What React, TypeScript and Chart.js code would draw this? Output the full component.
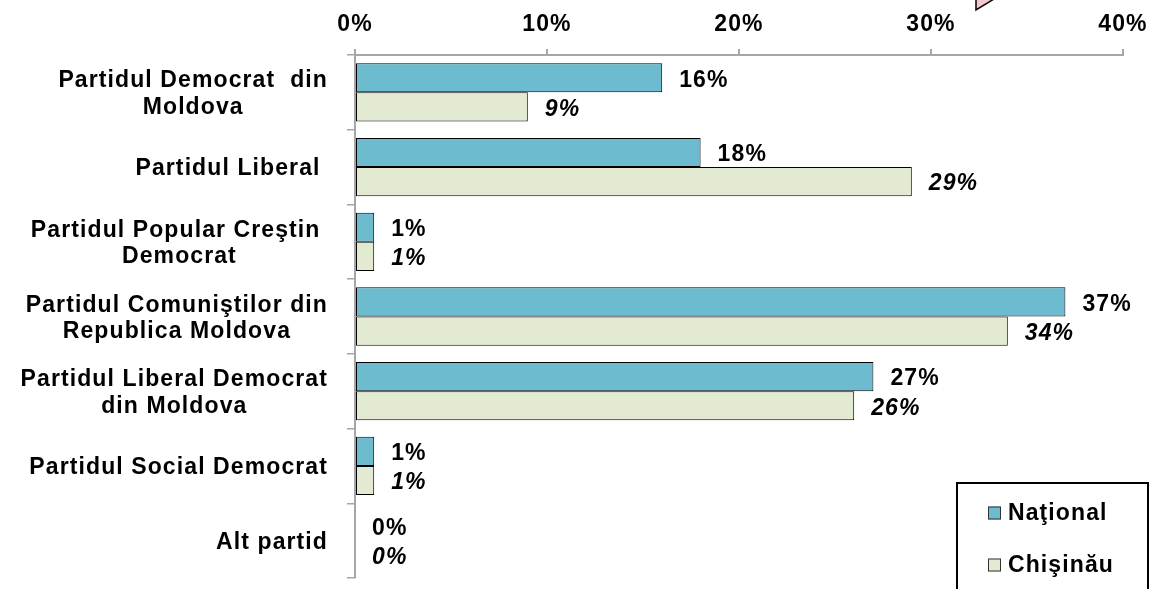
import React, { useEffect, useRef } from "react";
import { Chart, registerables } from "chart.js";

Chart.register(...registerables);

const categories: string[][] = [
  ["Partidul Democrat  din", "Moldova"],
  ["Partidul Liberal "],
  ["Partidul Popular Creştin ", "Democrat"],
  ["Partidul Comuniştilor din", "Republica Moldova"],
  ["Partidul Liberal Democrat", "din Moldova"],
  ["Partidul Social Democrat"],
  ["Alt partid"],
];
const seriesNames = ["Naţional", "Chişinău"];
const nationalValues = [16, 18, 1, 37, 27, 1, 0];
const chisinauValues = [9, 29, 1, 34, 26, 1, 0];
const xTickValues = [0, 10, 20, 30, 40];

const FONT = "'Liberation Sans', Arial, sans-serif";
const FS = 23;
const LS = "1.1px";
const BLUE = "#6CBBCF";
const GREEN = "#E2EAD1";
const GRAY = "#A6A6A6";

const spacingPlugin = {
  id: "spacing",
  beforeLayout(chart: any) {
    chart.ctx.letterSpacing = LS;
  },
  beforeDraw(chart: any) {
    chart.ctx.letterSpacing = LS;
  },
};

const decorPlugin = {
  id: "decor",
  afterDraw(chart: any) {
    const ctx = chart.ctx;
    const yScale = chart.scales.y;
    const area = chart.chartArea;
    ctx.save();
    ctx.letterSpacing = LS;
    ctx.font = `bold ${FS}px ${FONT}`;
    ctx.fillStyle = "#000";
    ctx.textBaseline = "middle";
    ctx.textAlign = "center";
    // category labels
    const rightEdge = yScale.right - 27;
    categories.forEach((lines, i) => {
      const yc = yScale.getPixelForValue(i) + 2;
      const widths = lines.map((l) => ctx.measureText(l).width);
      const bw = Math.max(...widths);
      const cx = rightEdge - bw / 2;
      lines.forEach((l, j) => {
        ctx.fillText(l, cx, yc + (j - (lines.length - 1) / 2) * 26.6);
      });
    });
    // value labels
    ctx.textAlign = "left";
    chart.data.datasets.forEach((ds: any, d: number) => {
      const meta = chart.getDatasetMeta(d);
      ctx.font = d === 1 ? `italic bold ${FS}px ${FONT}` : `bold ${FS}px ${FONT}`;
      meta.data.forEach((bar: any, i: number) => {
        ctx.fillText(ds.data[i] + "%", bar.x + 17, bar.y + 2.5);
      });
    });
    // legend box
    const lx = area.right - 166;
    const ly = area.bottom - 95;
    ctx.lineWidth = 2;
    ctx.strokeStyle = "#000";
    ctx.beginPath();
    ctx.moveTo(lx, chart.height + 2);
    ctx.lineTo(lx, ly);
    ctx.lineTo(area.right + 25, ly);
    ctx.lineTo(area.right + 25, chart.height + 2);
    ctx.stroke();
    chart.data.datasets.forEach((ds: any, d: number) => {
      const iy = ly + 30 + d * 52;
      ctx.fillStyle = ds.backgroundColor;
      ctx.fillRect(lx + 31, iy - 6.5, 13, 13);
      ctx.lineWidth = 1;
      ctx.strokeStyle = "#333";
      ctx.strokeRect(lx + 31.5, iy - 6, 12, 12);
      ctx.fillStyle = "#000";
      ctx.font = `bold ${FS}px ${FONT}`;
      ctx.textAlign = "left";
      ctx.fillText(ds.label, lx + 51, iy + 1);
    });
    // decorative callout fragment at top
    ctx.beginPath();
    ctx.moveTo(976, -1);
    ctx.lineTo(976, 10);
    ctx.lineTo(994, -1);
    ctx.closePath();
    ctx.fillStyle = "#F7C7C9";
    ctx.fill();
    ctx.beginPath();
    ctx.moveTo(976, -1);
    ctx.lineTo(976, 10);
    ctx.lineTo(994, -1);
    ctx.strokeStyle = "#000";
    ctx.lineWidth = 1.5;
    ctx.stroke();
    ctx.restore();
  },
};

export default function App() {
  const ref = useRef<HTMLCanvasElement>(null);
  useEffect(() => {
    if (!ref.current) return;
    const chart = new Chart(ref.current, {
      type: "bar",
      data: {
        labels: categories.map((c) => c.join(" ")),
        datasets: [
          {
            label: seriesNames[0],
            data: nationalValues,
            backgroundColor: BLUE,
            borderColor: "#000",
            borderWidth: (c: any) => (c.raw === 0 ? 0 : 1),
            borderSkipped: false,
            categoryPercentage: 0.78,
            barPercentage: 1,
          },
          {
            label: seriesNames[1],
            data: chisinauValues,
            backgroundColor: GREEN,
            borderColor: "#000",
            borderWidth: (c: any) => (c.raw === 0 ? 0 : 1),
            borderSkipped: false,
            categoryPercentage: 0.78,
            barPercentage: 1,
          },
        ],
      },
      options: {
        indexAxis: "y",
        animation: false,
        responsive: true,
        maintainAspectRatio: false,
        layout: { padding: { left: 0, top: 0, right: 28, bottom: 11 } },
        plugins: {
          legend: { display: false },
          tooltip: { enabled: false },
        },
        scales: {
          x: {
            position: "top",
            min: xTickValues[0],
            max: xTickValues[xTickValues.length - 1],
            afterBuildTicks: (s: any) => {
              s.ticks = xTickValues.map((v) => ({ value: v }));
            },
            afterFit: (s: any) => {
              s.height = 55;
              s.paddingLeft = 0;
              s.paddingRight = 0;
            },
            ticks: {
              callback: (v: any) => v + "%",
              color: "#000",
              font: { family: FONT, size: FS, weight: "bold" },
              padding: 11,
              maxRotation: 0,
            },
            grid: {
              drawOnChartArea: false,
              drawTicks: true,
              tickLength: 6,
              color: GRAY,
              lineWidth: 2,
            },
            border: { display: true, color: GRAY, width: 2 },
          },
          y: {
            afterFit: (s: any) => {
              s.width = 355;
              s.paddingTop = 0;
              s.paddingBottom = 0;
            },
            ticks: { display: false },
            grid: {
              drawOnChartArea: false,
              drawTicks: true,
              tickLength: 8,
              color: GRAY,
              lineWidth: 1.5,
            },
            border: { display: true, color: GRAY, width: 2 },
          },
        },
      },
      plugins: [spacingPlugin, decorPlugin],
    } as any);
    return () => chart.destroy();
  }, []);
  return (
    <div
      style={{
        position: "fixed",
        left: 0,
        top: 0,
        width: 1151,
        height: 589,
        background: "#fff",
      }}
    >
      <canvas ref={ref} />
    </div>
  );
}
